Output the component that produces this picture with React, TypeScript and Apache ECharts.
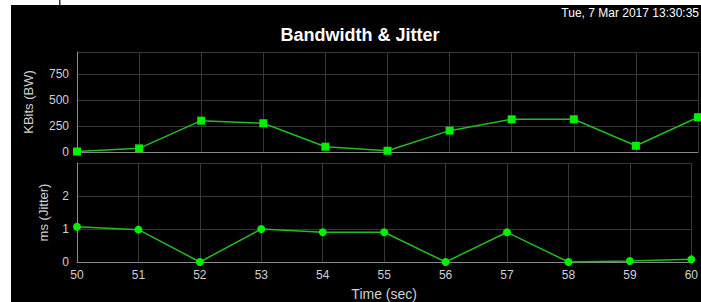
import React, { useEffect, useRef } from "react";
import * as echarts from "echarts";

const seconds = ["50", "51", "52", "53", "54", "55", "56", "57", "58", "59", "60"];
const bandwidth = [5, 35, 301, 276, 51, 12, 205, 314, 314, 60, 334];
const jitter = [1.07, 0.98, 0, 1.0, 0.9, 0.9, 0, 0.9, 0, 0.03, 0.08];
const bwTicks = [0, 250, 500, 750];
const jitterTicks = [0, 1, 2];

const titleText = "Bandwidth & Jitter";
const dateText = "Tue, 7 Mar 2017 13:30:35";

export default function App() {
  const ref = useRef<HTMLDivElement>(null);
  useEffect(() => {
    const chart = echarts.init(ref.current!, null, { renderer: "svg" });
    const font = "Arial, 'Liberation Sans', sans-serif";
    const gridLine = { show: true, lineStyle: { color: "#383838", width: 1 } };
    const axisLine = { show: true, lineStyle: { color: "#8a8a8a", width: 1 } };
    const lbl = { color: "#d0d0d0", fontSize: 12, fontFamily: font };
    chart.setOption({
      animation: false,
      backgroundColor: "#ffffff",
      graphic: [
        { type: "rect", shape: { x: 11, y: 5, width: 700, height: 300 }, style: { fill: "#000000" }, z: -10 },
        { type: "rect", shape: { x: 59, y: 0, width: 1.5, height: 5 }, style: { fill: "#333333" } },
        {
          type: "text", x: 699, y: 7,
          style: { text: dateText, fill: "#ffffff", font: "12px " + font, align: "right" },
        },
        {
          type: "text", x: 360, y: 35,
          style: {
            text: titleText, fill: "#ffffff", font: "bold 18px " + font,
            align: "center", verticalAlign: "middle",
          },
        },
      ],
      grid: [
        { left: 77, top: 52, width: 621, height: 100 },
        { left: 77, top: 163, width: 621, height: 101 },
      ],
      xAxis: [
        {
          type: "category", gridIndex: 0, data: seconds, boundaryGap: false,
          axisLine, axisTick: { show: false }, axisLabel: { show: false },
          splitLine: gridLine,
        },
        {
          type: "category", gridIndex: 1, data: seconds, boundaryGap: false,
          axisLine, axisTick: { show: false },
          axisLabel: { ...lbl, margin: 7 },
          splitLine: gridLine,
          name: "Time (sec)", nameLocation: "middle", nameGap: 25,
          nameTextStyle: { color: "#d0d0d0", fontSize: 14, fontFamily: font },
        },
      ],
      yAxis: [
        {
          type: "value", gridIndex: 0, min: 0, max: 960, interval: 250,
          axisLine, axisTick: { show: false },
          axisLabel: {
            ...lbl, margin: 8,
            formatter: (v: number) => (bwTicks.includes(v) ? String(v) : ""),
          },
          splitLine: gridLine,
          name: "KBits (BW)", nameLocation: "middle", nameGap: 42,
          nameTextStyle: { color: "#d0d0d0", fontSize: 13, fontFamily: font },
        },
        {
          type: "value", gridIndex: 1, min: 0, max: 3, interval: 1,
          axisLine, axisTick: { show: false },
          axisLabel: {
            ...lbl, margin: 8,
            formatter: (v: number) => (jitterTicks.includes(v) ? String(v) : ""),
          },
          splitLine: gridLine,
          name: "ms (Jitter)", nameLocation: "middle", nameGap: 27,
          nameTextStyle: { color: "#d0d0d0", fontSize: 13, fontFamily: font },
        },
      ],
      series: [
        {
          type: "line", xAxisIndex: 0, yAxisIndex: 0, data: bandwidth,
          symbol: "rect", symbolSize: 8,
          lineStyle: { color: "#22bb22", width: 1.5 },
          itemStyle: { color: "#00f000" },
        },
        {
          type: "line", xAxisIndex: 1, yAxisIndex: 1, data: jitter,
          symbol: "circle", symbolSize: 8,
          lineStyle: { color: "#22bb22", width: 1.5 },
          itemStyle: { color: "#00f000" },
        },
      ],
    });
    return () => chart.dispose();
  }, []);
  return (
    <div
      ref={ref}
      style={{ position: "fixed", left: 0, top: 0, width: 701, height: 302 }}
    />
  );
}
